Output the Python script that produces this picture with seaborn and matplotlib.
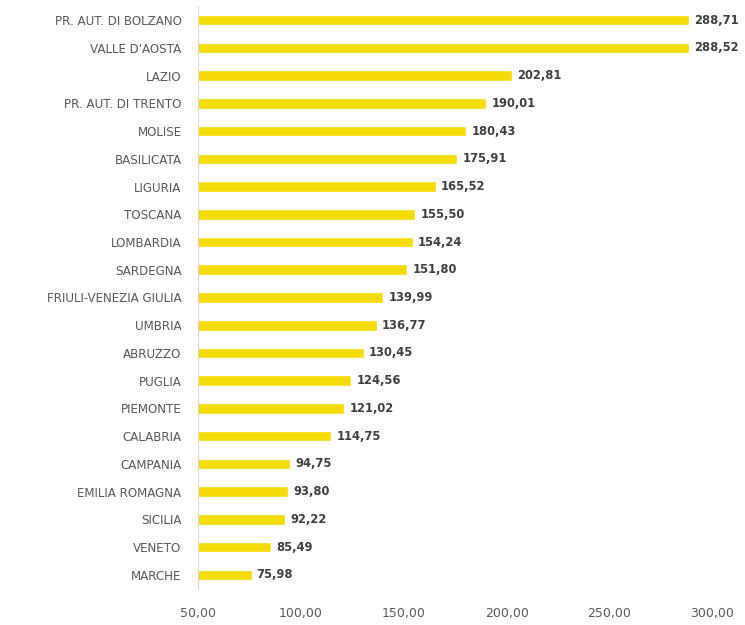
import matplotlib
matplotlib.use("Agg")
import matplotlib.pyplot as plt
import seaborn as sns
import pandas as pd

regions = ["PR. AUT. DI BOLZANO", "VALLE D'AOSTA", "LAZIO", "PR. AUT. DI TRENTO", "MOLISE",
           "BASILICATA", "LIGURIA", "TOSCANA", "LOMBARDIA", "SARDEGNA",
           "FRIULI-VENEZIA GIULIA", "UMBRIA", "ABRUZZO", "PUGLIA", "PIEMONTE",
           "CALABRIA", "CAMPANIA", "EMILIA ROMAGNA", "SICILIA", "VENETO", "MARCHE"]
values = [288.71, 288.52, 202.81, 190.01, 180.43, 175.91, 165.52, 155.50, 154.24, 151.80,
          139.99, 136.77, 130.45, 124.56, 121.02, 114.75, 94.75, 93.80, 92.22, 85.49, 75.98]
x_ticks = [50, 100, 150, 200, 250, 300]

df = pd.DataFrame({"regione": regions, "valore": values})

sns.set_theme(style="white")
plt.rcParams['font.family'] = ['DejaVu Sans']

fig = plt.figure(figsize=(7.45, 6.25), dpi=100)
ax = fig.add_axes([0.266, 0.058, 0.690, 0.932])

sns.barplot(data=df, x="valore", y="regione", orient="h", color="#F5DC08",
            saturation=1, width=0.38, ax=ax)

ax.set_xlim(50, 300)
ax.set_ylim(len(regions) - 0.5, -0.5)
ax.set_xticks(x_ticks)
ax.set_xticklabels([f"{t:.2f}".replace(".", ",") for t in x_ticks], fontsize=9, color="#595959")
ax.tick_params(axis="y", labelsize=8.6, labelcolor="#595959", length=0, pad=12)
ax.tick_params(axis="x", length=0, pad=13)
ax.set_xlabel("")
ax.set_ylabel("")

for s in ["top", "right", "bottom"]:
    ax.spines[s].set_visible(False)
ax.spines["left"].set_color("#D9D9E6")
ax.spines["left"].set_linewidth(0.8)

for i, v in enumerate(values):
    ax.text(v + 2.5, i, f"{v:.2f}".replace(".", ","), va="center", ha="left",
            fontsize=8.3, color="#404040", fontweight="bold")

fig.savefig("out.png", dpi=100)
